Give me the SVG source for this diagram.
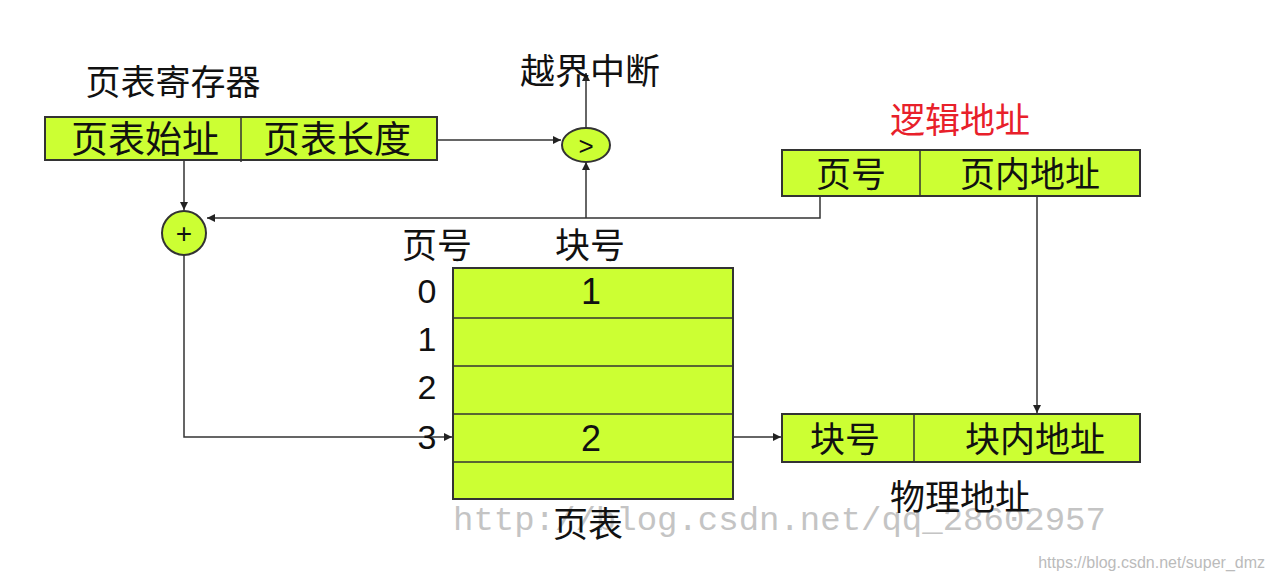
<svg xmlns="http://www.w3.org/2000/svg" width="1273" height="578" viewBox="0 0 1273 578">
<defs>
<style>
.box{fill:#ccff33;stroke:#333;stroke-width:2}
.t{font-family:"Liberation Sans","Noto Sans CJK SC",sans-serif;fill:#111;text-anchor:middle}
.ln{stroke:#333;stroke-width:1.5;fill:none}
.wm{font-family:"Liberation Mono",monospace;fill:#c4c4c4;font-size:34px}
</style>
<marker id="a" markerWidth="10" markerHeight="10" refX="8" refY="4" orient="auto" markerUnits="userSpaceOnUse"><path d="M0,0L8,4L0,8z" fill="#222"/></marker>
</defs>
<rect width="1273" height="578" fill="#fff"/>
<text class="wm" x="453" y="530">http://blog.csdn.net/qq_28602957</text>
<text x="1265" y="568" font-family="Liberation Sans,sans-serif" font-size="16" fill="#bbb" text-anchor="end">https://blog.csdn.net/super_dmz</text>
<g id="connectors">
<line class="ln" x1="437" y1="140" x2="561" y2="140" marker-end="url(#a)"/>
<line class="ln" x1="586" y1="128" x2="586" y2="73" marker-end="url(#a)"/>
<line class="ln" x1="184" y1="160" x2="184" y2="210" marker-end="url(#a)"/>
<polyline class="ln" points="820,196 820,218 207,218" marker-end="url(#a)"/>
<line class="ln" x1="586" y1="218" x2="586" y2="162" marker-end="url(#a)"/>
<polyline class="ln" points="184,255 184,437 452,437" marker-end="url(#a)"/>
<line class="ln" x1="733" y1="437" x2="781" y2="437" marker-end="url(#a)"/>
<line class="ln" x1="1037" y1="196" x2="1037" y2="413" marker-end="url(#a)"/>
</g>
<g id="ptr">
<text class="t" x="173" y="95" font-size="35">页表寄存器</text>
<rect class="box" x="45" y="117" width="392" height="43"/>
<line class="ln" x1="241" y1="117" x2="241" y2="162"/>
<text class="t" x="145" y="153" font-size="37">页表始址</text>
<text class="t" x="337" y="153" font-size="37">页表长度</text>
</g>
<g id="cmp">
<ellipse class="box" cx="586" cy="145" rx="24" ry="17"/>
<text class="t" x="586" y="155" font-size="26">&gt;</text>
<text class="t" x="590" y="84" font-size="35">越界中断</text>
</g>
<g id="plus">
<circle class="box" cx="184" cy="233" r="22"/>
<text class="t" x="184" y="243" font-size="28">+</text>
</g>
<g id="logical">
<text class="t" x="960" y="133" font-size="35" style="fill:#e8202a">逻辑地址</text>
<rect class="box" x="782" y="150" width="358" height="46"/>
<line class="ln" x1="920" y1="150" x2="920" y2="196"/>
<text class="t" x="851" y="187" font-size="35">页号</text>
<text class="t" x="1030" y="187" font-size="35">页内地址</text>
</g>
<g id="pagetable">
<text class="t" x="437" y="258" font-size="35">页号</text>
<text class="t" x="590" y="258" font-size="35">块号</text>
<rect class="box" x="453" y="268" width="280" height="231"/>
<line class="ln" x1="453" y1="318" x2="733" y2="318"/>
<line class="ln" x1="453" y1="366" x2="733" y2="366"/>
<line class="ln" x1="453" y1="414" x2="733" y2="414"/>
<line class="ln" x1="453" y1="462" x2="733" y2="462"/>
<text class="t" x="427" y="303" font-size="34">0</text>
<text class="t" x="427" y="351" font-size="34">1</text>
<text class="t" x="427" y="399" font-size="34">2</text>
<text class="t" x="427" y="449" font-size="34">3</text>
<text class="t" x="591" y="304" font-size="36">1</text>
<text class="t" x="591" y="451" font-size="36">2</text>
<text class="t" x="588" y="537" font-size="35">页表</text>
</g>
<g id="physical">
<rect class="box" x="782" y="414" width="358" height="48"/>
<line class="ln" x1="914" y1="414" x2="914" y2="462"/>
<text class="t" x="845" y="452" font-size="35">块号</text>
<text class="t" x="1035" y="452" font-size="35">块内地址</text>
<text class="t" x="960" y="510" font-size="35">物理地址</text>
</g>
</svg>
